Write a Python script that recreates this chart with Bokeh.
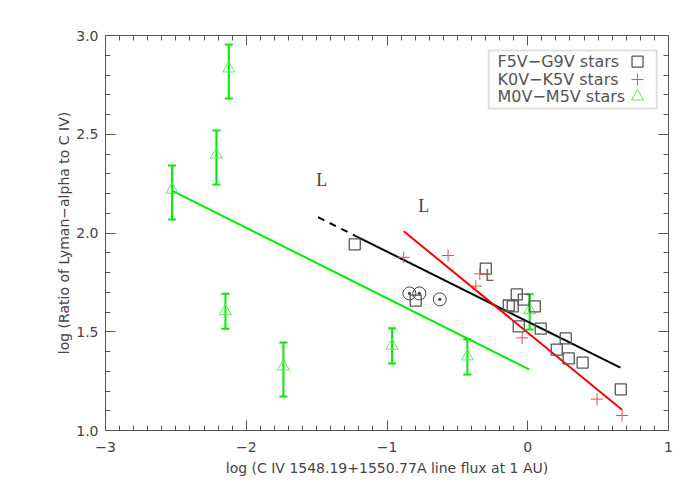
from bokeh.plotting import figure
from bokeh.models import (Range1d, LinearAxis, SingleIntervalTicker, PrintfTickFormatter,
                          CustomJSTickFormatter, ColumnDataSource, Whisker, TeeHead, Label,
                          BoxAnnotation)
from bokeh.core.properties import value
from bokeh.embed import file_html
from bokeh.resources import INLINE

# ---------------- data ----------------
# F5V-G9V stars (squares)
fg_x = [-1.229, -0.796, -0.298, -0.135, -0.107, -0.078, -0.028, 0.050, -0.064, 0.092,
        0.270, 0.206, 0.291, 0.390, 0.661]
fg_y = [1.942, 1.658, 1.820, 1.633, 1.628, 1.689, 1.663, 1.628, 1.527, 1.516,
        1.466, 1.410, 1.365, 1.344, 1.208]
# K0V-K5V stars (plus)
k_x = [-0.881, -0.566, -0.341, -0.369, -0.040, 0.492, 0.670]
k_y = [1.877, 1.886, 1.793, 1.731, 1.469, 1.159, 1.076]
# M0V-M5V stars (triangles with error bars)
m_x = [-2.527, -2.212, -2.124, -2.148, -1.736, -0.964, -0.429, 0.014]
m_y = [2.219, 2.397, 2.833, 1.604, 1.324, 1.429, 1.375, 1.608]
m_lo = [2.068, 2.246, 2.681, 1.515, 1.172, 1.339, 1.284, 1.511]
m_hi = [2.342, 2.519, 2.954, 1.692, 1.446, 1.518, 1.462, 1.690]
# Sun symbols
sun_x = [-0.841, -0.770, -0.625]
sun_y = [1.694, 1.694, 1.664]
# fitted lines
black_dash_x = [-1.490, -1.229]
black_dash_y = [2.080, 1.987]
black_x = [-1.229, 0.658]
black_y = [1.987, 1.318]
red_x = [-0.881, 0.670]
red_y = [2.009, 1.105]
green_x = [-2.527, 0.010]
green_y = [2.215, 1.309]
# "L" marks
L_x = [-1.464, -0.739]
L_y = [2.266, 2.139]
small_L_x = [-0.274]
small_L_y = [1.780]

legend_labels = ["F5V\u2212G9V stars", "K0V\u2212K5V stars", "M0V\u2212M5V stars"]
x_title = "log (C IV 1548.19+1550.77A line flux at 1 AU)"
y_title = "log (Ratio of Lyman\u2212alpha to C IV)"

FONT = "DejaVu Sans"
AX = "#555555"
TXT = "#444444"

p = figure(width=684, height=484, output_backend="svg", toolbar_location=None,
           x_range=Range1d(-3, 1), y_range=Range1d(1, 3),
           x_axis_location=None, y_axis_location=None,
           min_border_left=105, min_border_right=16, min_border_top=35, min_border_bottom=54)
p.outline_line_color = None
p.grid.visible = False
p.background_fill_color = "white"
p.border_fill_color = "white"

xt = SingleIntervalTicker(interval=1, num_minor_ticks=10)
yt = SingleIntervalTicker(interval=0.5, num_minor_ticks=5)
minus_fmt = CustomJSTickFormatter(code="return tick < 0 ? '\u2212' + Math.abs(tick) : String(tick);")
blank_fmt = CustomJSTickFormatter(code="return '';")


def style(ax):
    ax.axis_line_color = AX
    ax.axis_line_width = 1
    ax.major_tick_line_color = AX
    ax.minor_tick_line_color = AX
    ax.major_tick_in = 10
    ax.major_tick_out = 0
    ax.minor_tick_in = 5
    ax.minor_tick_out = 0
    ax.major_label_text_font = FONT
    ax.major_label_text_font_size = "14px"
    ax.major_label_text_color = TXT
    ax.axis_label_text_font = FONT
    ax.axis_label_text_font_size = "14px"
    ax.axis_label_text_font_style = "normal"
    ax.axis_label_text_color = TXT


bottom = LinearAxis(ticker=xt, formatter=minus_fmt, axis_label=x_title)
style(bottom)
bottom.major_label_standoff = 11
bottom.axis_label_standoff = 5
left = LinearAxis(ticker=yt, formatter=PrintfTickFormatter(format="%.1f"), axis_label=y_title)
style(left)
left.major_label_standoff = 7
left.axis_label_standoff = 1
top = LinearAxis(ticker=xt, formatter=blank_fmt)
style(top)
top.major_label_standoff = 0
right = LinearAxis(ticker=yt, formatter=blank_fmt)
style(right)
right.major_label_standoff = 0
p.add_layout(bottom, "below")
p.add_layout(left, "left")
p.add_layout(top, "above")
p.add_layout(right, "right")

# fitted lines
p.line(black_dash_x, black_dash_y, line_color="black", line_width=2, line_dash="7 6")
p.line(black_x, black_y, line_color="black", line_width=2)
p.line(red_x, red_y, line_color="#ff0000", line_width=2)
p.line(green_x, green_y, line_color="#00ee00", line_width=2)

# M stars with error bars
msrc = ColumnDataSource(dict(x=m_x, y=m_y, lo=m_lo, hi=m_hi))
GREEN = "#00ee00"
p.add_layout(Whisker(source=msrc, base="x", lower="lo", upper="hi", dimension="height",
                     line_color=GREEN, line_width=2,
                     upper_head=TeeHead(size=8, line_color=GREEN, line_width=2),
                     lower_head=TeeHead(size=8, line_color=GREEN, line_width=2)))
p.scatter("x", "y", source=msrc, marker="triangle", size=12, fill_color=None,
          line_color="#55ee55", line_width=1)

# F/G stars
p.scatter(fg_x, fg_y, marker="square", size=11, fill_color=None, line_color="#555555",
          line_width=1.3)
# K stars
p.scatter(k_x, k_y, marker="cross", size=12, line_color="#ff4444", line_width=1)
# Sun
p.scatter(sun_x, sun_y, marker="circle_dot", size=13, fill_color=None, line_color="#444444",
          line_width=1)

# L marks
p.text(L_x, L_y, text=["L"] * len(L_x), text_font=value("Liberation Serif"),
       text_font_size="18px", text_align="center", text_baseline="middle", text_color="#444444")
p.text(small_L_x, small_L_y, text=["L"], text_font=value(FONT), text_font_size="15px",
       text_align="center", text_baseline="middle", text_color="#666666")

# legend (custom, marker to the right of the text)
p.add_layout(BoxAnnotation(left=-0.277, right=0.9165, top=2.924, bottom=2.630,
                           fill_color=None, fill_alpha=0, line_color="#999999", line_width=2))
leg_y = [2.868, 2.777, 2.691]
for lab, yy in zip(legend_labels, leg_y):
    p.add_layout(Label(x=-0.215, y=yy, text=lab, text_font=FONT, text_font_size="16px",
                       text_baseline="middle", text_color="#555555"))
p.scatter([0.780], [leg_y[0]], marker="square", size=11, fill_color=None,
          line_color="#555555", line_width=1.3)
p.scatter([0.780], [leg_y[1]], marker="cross", size=12, line_color="#ff4444", line_width=1)
p.scatter([0.780], [leg_y[2]], marker="triangle", size=12, fill_color=None,
          line_color="#55ee55", line_width=1)

open("out.html", "w").write(file_html(p, INLINE))
